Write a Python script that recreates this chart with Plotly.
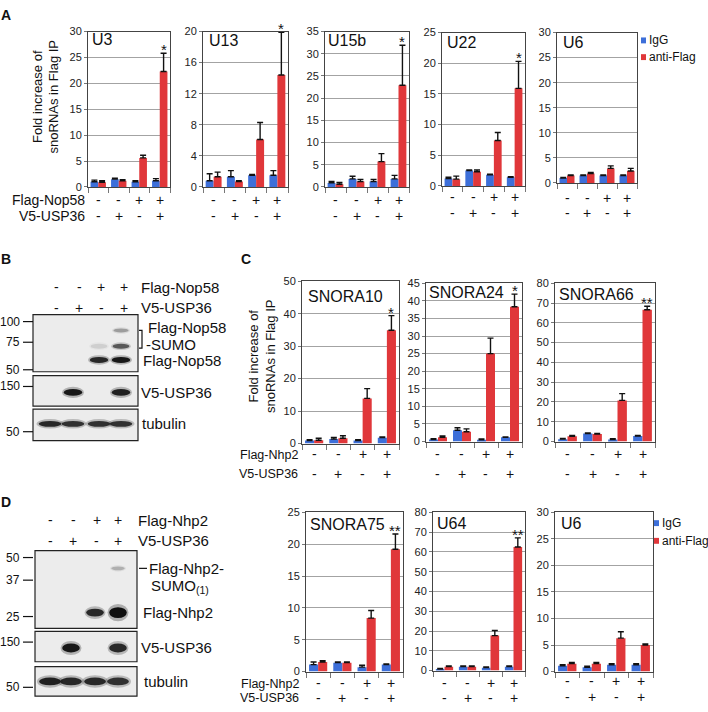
import plotly.graph_objects as go

W, H = 708, 712
FONT = "Liberation Sans, Arial, Helvetica, sans-serif"
BLUE = "#3d6fd9"
RED = "#e0373a"
GRID = "#a3a3a3"
FRAME = "#444444"

# ---------------- data ----------------
GROUPS = [0, 1, 2, 3]
NOP58_SIGNS = ["-", "-", "+", "+"]
NHP2_SIGNS = ["-", "-", "+", "+"]
USP36_SIGNS = ["-", "+", "-", "+"]

# Panel A (Flag-Nop58 IP)
U3_IGG = [1.0, 1.5, 1.0, 1.2]
U3_IGG_ERR = [0.3, 0.2, 0.2, 0.4]
U3_FLAG = [0.9, 1.2, 5.6, 22.3]
U3_FLAG_ERR = [0.3, 0.2, 0.5, 3.5]

U13_IGG = [0.8, 1.3, 1.5, 1.5]
U13_IGG_ERR = [0.9, 0.8, 0.1, 0.6]
U13_FLAG = [1.3, 0.7, 6.1, 14.4]
U13_FLAG_ERR = [0.6, 0.1, 2.2, 5.5]

U15B_IGG = [0.9, 1.8, 1.2, 1.8]
U15B_IGG_ERR = [0.3, 0.6, 0.5, 0.8]
U15B_FLAG = [0.6, 1.2, 5.7, 22.9]
U15B_FLAG_ERR = [0.4, 0.5, 1.8, 9.0]

U22_IGG = [1.2, 2.5, 1.8, 1.4]
U22_IGG_ERR = [0.2, 0.1, 0.1, 0.1]
U22_FLAG = [1.1, 2.3, 7.4, 15.9]
U22_FLAG_ERR = [0.5, 0.3, 1.3, 4.4]

U6A_IGG = [1.0, 1.5, 1.5, 1.5]
U6A_IGG_ERR = [0.1, 0.1, 0.1, 0.1]
U6A_FLAG = [1.5, 1.9, 2.9, 2.4]
U6A_FLAG_ERR = [0.1, 0.2, 0.5, 0.5]

# Panel C (Flag-Nhp2 IP)
SNORA10_IGG = [0.9, 1.4, 0.9, 1.8]
SNORA10_IGG_ERR = [0.3, 0.5, 0.3, 0.2]
SNORA10_FLAG = [1.0, 1.6, 13.9, 34.9]
SNORA10_FLAG_ERR = [0.6, 0.8, 3.0, 4.5]

SNORA24_IGG = [0.6, 3.2, 0.5, 1.2]
SNORA24_IGG_ERR = [0.2, 0.7, 0.2, 0.1]
SNORA24_FLAG = [1.2, 2.8, 25.0, 38.3]
SNORA24_FLAG_ERR = [0.4, 0.8, 4.4, 3.6]

SNORA66_IGG = [1.2, 4.0, 1.0, 2.8]
SNORA66_IGG_ERR = [0.4, 0.3, 0.4, 0.3]
SNORA66_FLAG = [2.7, 3.8, 20.8, 66.6]
SNORA66_FLAG_ERR = [0.4, 0.3, 3.4, 1.8]

# Panel D (Flag-Nhp2 IP)
SNORA75_IGG = [1.1, 1.4, 0.7, 1.1]
SNORA75_IGG_ERR = [0.4, 0.1, 0.3, 0.1]
SNORA75_FLAG = [1.5, 1.4, 8.4, 19.2]
SNORA75_FLAG_ERR = [0.2, 0.1, 1.2, 2.4]

U64_IGG = [0.8, 2.0, 1.5, 2.0]
U64_IGG_ERR = [0.3, 0.4, 0.4, 0.4]
U64_FLAG = [2.0, 2.0, 17.7, 62.5]
U64_FLAG_ERR = [0.4, 0.4, 2.6, 4.6]

U6D_IGG = [1.1, 0.8, 1.3, 1.3]
U6D_IGG_ERR = [0.2, 0.2, 0.2, 0.2]
U6D_FLAG = [1.5, 1.5, 6.3, 5.0]
U6D_FLAG_ERR = [0.2, 0.2, 1.2, 0.2]

# Western blot band intensities (lanes 1-4)
B_NOP58 = [0.0, 0.0, 0.85, 0.95]
B_SUMO_A = [0.0, 0.0, 0.10, 0.60]
B_SUMO_B = [0.0, 0.0, 0.0, 0.30]
B_USP36 = [0.0, 0.95, 0.0, 0.90]
B_TUB = [0.85, 0.80, 0.80, 0.80]

D_NHP2 = [0.0, 0.0, 0.85, 1.0]
D_SUMO = [0.0, 0.0, 0.0, 0.22]
D_USP36 = [0.0, 0.95, 0.0, 0.85]
D_TUB = [0.9, 0.85, 0.85, 0.8]

# ---------------- layout (pixel boxes) ----------------
# name, igg, igg_err, flag, flag_err, ymax, dtick, box(l, r, t, b), star, title(x, y), rows(y1, y2), signs1
PANELS = [
    ("U3", U3_IGG, U3_IGG_ERR, U3_FLAG, U3_FLAG_ERR, 30, 5, (88, 170, 26, 184), "*", (91, 34), (197, 214), NOP58_SIGNS),
    ("U13", U13_IGG, U13_IGG_ERR, U13_FLAG, U13_FLAG_ERR, 20, 4, (203, 288, 26, 184), "*", (208, 35), (197, 214), NOP58_SIGNS),
    ("U15b", U15B_IGG, U15B_IGG_ERR, U15B_FLAG, U15B_FLAG_ERR, 35, 5, (325, 409, 26, 184), "*", (327, 35), (197, 214), NOP58_SIGNS),
    ("U22", U22_IGG, U22_IGG_ERR, U22_FLAG, U22_FLAG_ERR, 25, 5, (442, 525, 27, 183), "*", (446, 37), (194, 211), NOP58_SIGNS),
    ("U6", U6A_IGG, U6A_IGG_ERR, U6A_FLAG, U6A_FLAG_ERR, 30, 5, (557, 637, 27, 180), "", (562, 37), (195, 211), NOP58_SIGNS),
    ("SNORA10", SNORA10_IGG, SNORA10_IGG_ERR, SNORA10_FLAG, SNORA10_FLAG_ERR, 50, 10, (302, 399, 280, 445), "*", (307, 295), (456, 476), NHP2_SIGNS),
    ("SNORA24", SNORA24_IGG, SNORA24_IGG_ERR, SNORA24_FLAG, SNORA24_FLAG_ERR, 45, 5, (426, 522, 282, 443), "*", (428, 291), (456, 476), NHP2_SIGNS),
    ("SNORA66", SNORA66_IGG, SNORA66_IGG_ERR, SNORA66_FLAG, SNORA66_FLAG_ERR, 80, 10, (555, 655, 282, 443), "**", (558, 293), (456, 476), NHP2_SIGNS),
    ("SNORA75", SNORA75_IGG, SNORA75_IGG_ERR, SNORA75_FLAG, SNORA75_FLAG_ERR, 25, 5, (306, 403, 515, 677), "**", (309, 527), (689, 704), NHP2_SIGNS),
    ("U64", U64_IGG, U64_IGG_ERR, U64_FLAG, U64_FLAG_ERR, 80, 10, (433, 525, 515, 676), "**", (436, 526), (689, 704), NHP2_SIGNS),
    ("U6", U6D_IGG, U6D_IGG_ERR, U6D_FLAG, U6D_FLAG_ERR, 30, 5, (555, 653, 515, 677), "", (560, 526), (687, 703), NHP2_SIGNS),
]

BARGAP = 0.25


def px(x):
    return x / W


def py(y):
    return 1 - y / H


fig = go.Figure()
annotations = []
shapes = []
layout_axes = {}


def text(x, y, s, size=14, anchor="left", valign="middle", color="#111", angle=0, bold=False, **kw):
    if bold:
        s = "<b>" + s + "</b>"
    annotations.append(dict(x=px(x), y=py(y), xref="paper", yref="paper", text=s, showarrow=False,
                            xanchor=anchor, yanchor=valign, textangle=angle, borderpad=0,
                            font=dict(size=size, color=color, family=FONT), **kw))


for k, (name, igg, igg_err, flag, flag_err, ymax, dtick, box, star, tpos, rows, signs1) in enumerate(PANELS, start=1):
    xa = "x" if k == 1 else f"x{k}"
    ya = "y" if k == 1 else f"y{k}"
    l, r, t, b = box
    err_style = dict(type="data", symmetric=False, color="#111", thickness=1.4, width=3)
    fig.add_trace(go.Bar(x=GROUPS, y=igg, name="IgG", marker=dict(color=BLUE, line=dict(width=0)),
                         error_y=dict(array=igg_err, arrayminus=[0] * len(igg), **err_style),
                         xaxis=xa, yaxis=ya, showlegend=False))
    fig.add_trace(go.Bar(x=GROUPS, y=flag, name="anti-Flag", marker=dict(color=RED, line=dict(width=0)),
                         error_y=dict(array=flag_err, arrayminus=[0] * len(flag), **err_style),
                         xaxis=xa, yaxis=ya, showlegend=False))
    layout_axes["xaxis" if k == 1 else f"xaxis{k}"] = dict(
        domain=[px(l), px(r)], anchor=ya, range=[-0.5, 3.5],
        tickvals=[-0.5, 0.5, 1.5, 2.5, 3.5], showticklabels=False,
        ticks="outside", ticklen=5, tickcolor="#777", showline=True, linecolor=FRAME,
        linewidth=1, mirror=True, showgrid=False, zeroline=False, fixedrange=True)
    layout_axes["yaxis" if k == 1 else f"yaxis{k}"] = dict(
        domain=[py(b), py(t)], anchor=xa, range=[0, ymax], tick0=0, dtick=dtick,
        showgrid=True, gridcolor=GRID, gridwidth=1, ticks="outside", ticklen=3, tickcolor="#777",
        showline=True, linecolor=FRAME, linewidth=1, mirror=True, zeroline=False,
        tickfont=dict(size=11, color="#222", family=FONT), fixedrange=True)
    # panel title
    text(tpos[0], tpos[1], name, size=16)
    # significance stars above the anti-Flag bar of the last group
    if star:
        annotations.append(dict(x=GROUPS[-1] + (1 - BARGAP) / 4, y=flag[-1] + flag_err[-1],
                                xref=xa, yref=ya, text=star, showarrow=False, yanchor="bottom",
                                yshift=-6, borderpad=0, font=dict(size=15, color="#111", family=FONT)))
    # +/- rows
    for i, g in enumerate(GROUPS):
        for row_y, sgn in ((rows[0], signs1[i]), (rows[1], USP36_SIGNS[i])):
            annotations.append(dict(x=g, y=py(row_y), xref=xa, yref="paper", text=sgn, showarrow=False,
                                    xanchor="center", yanchor="middle", borderpad=0,
                                    font=dict(size=14, color="#111", family=FONT)))

# row labels for bar panels
text(86, 197, "Flag-Nop58", 14, anchor="right")
text(86, 214, "V5-USP36", 14, anchor="right")
text(299, 457, "Flag-Nhp2", 12.5, anchor="right")
text(299, 476, "V5-USP36", 12.5, anchor="right")
text(300, 690, "Flag-Nhp2", 12.5, anchor="right")
text(300, 704, "V5-USP36", 12.5, anchor="right")

# y-axis titles
text(46, 93, "Fold increase of<br>snoRNAs in Flag IP", 13, anchor="center", angle=-90)
text(262, 357, "Fold increase of<br>snoRNAs in Flag IP", 13, anchor="center", angle=-90)

# legends (A and D)
for (sx, ty1, ty2) in ((641, 35, 52), (654, 526, 544)):
    shapes.append(dict(type="rect", xref="paper", yref="paper", x0=px(sx), x1=px(sx + 5),
                       y0=py(ty1 + 3), y1=py(ty1 - 3), fillcolor=BLUE, line=dict(width=0)))
    shapes.append(dict(type="rect", xref="paper", yref="paper", x0=px(sx), x1=px(sx + 5),
                       y0=py(ty2 + 3), y1=py(ty2 - 3), fillcolor=RED, line=dict(width=0)))
    text(sx + 7, ty1, "IgG", 12)
    text(sx + 7, ty2, "anti-Flag", 12)

# panel letters
text(6, 9, "A", 14, anchor="center", bold=True)
text(6, 257, "B", 14, anchor="center", bold=True)
text(246, 257, "C", 14, anchor="center", bold=True)
text(6, 504, "D", 14, anchor="center", bold=True)


# ---------------- western blots (schematic) ----------------
def rect(x0, y0, x1, y1, fill="#ececec", lc="#222", lw=1.2):
    shapes.append(dict(type="rect", xref="paper", yref="paper", x0=px(x0), x1=px(x1), y0=py(y1), y1=py(y0),
                       fillcolor=fill, line=dict(color=lc, width=lw), layer="above"))


def band(xc, yc, w, h, a):
    if a <= 0:
        return
    shapes.append(dict(type="circle", xref="paper", yref="paper", x0=px(xc - w / 2), x1=px(xc + w / 2),
                       y0=py(yc + h * 0.8), y1=py(yc - h * 0.8),
                       fillcolor=f"rgba(30,30,30,{a * 0.3:.2f})", line=dict(width=0), layer="above"))
    shapes.append(dict(type="circle", xref="paper", yref="paper", x0=px(xc - w * 0.42), x1=px(xc + w * 0.42),
                       y0=py(yc + h / 2), y1=py(yc - h / 2),
                       fillcolor=f"rgba(15,15,15,{a:.2f})", line=dict(width=0), layer="above"))


def mw(y, label):
    shapes.append(dict(type="line", xref="paper", yref="paper", x0=px(23), x1=px(33), y0=py(y), y1=py(y),
                       line=dict(color="#111", width=1.2)))
    text(21, y, label, 12, anchor="right")


# Blot B
B_LANES = [50, 73, 99, 121]
B_SIGN_X = [57, 79, 101, 124]
for i in range(4):
    text(B_SIGN_X[i], 286, NOP58_SIGNS[i], 14, anchor="center")
    text(B_SIGN_X[i], 307, USP36_SIGNS[i], 14, anchor="center")
text(140, 286, "Flag-Nop58", 15)
text(140, 307, "V5-USP36", 15)
rect(33, 314, 138, 372)
rect(33, 376, 138, 407)
rect(33, 410, 138, 442)
for i, xc in enumerate(B_LANES):
    band(xc, 360, 22, 6, B_NOP58[i])
    band(xc, 346, 20, 5, B_SUMO_A[i])
    band(xc, 330, 18, 4, B_SUMO_B[i])
    band(xc, 393, 22, 7, B_USP36[i])
    band(xc, 425, 27, 6, B_TUB[i])
mw(321, "100")
mw(342, "75")
mw(370, "50")
mw(387, "150")
mw(433, "50")
shapes.append(dict(type="path", xref="paper", yref="paper",
                   path=f"M {px(139)},{py(330)} L {px(142)},{py(330)} L {px(142)},{py(348)} L {px(139)},{py(348)}",
                   line=dict(color="#111", width=1.2)))
text(147, 327, "Flag-Nop58", 15)
text(145, 344, "-SUMO", 15)
text(142, 361, "Flag-Nop58", 15)
text(140, 393, "V5-USP36", 15)
text(141, 425, "tubulin", 15)

# Blot D
D_LANES = [50, 71, 95, 118]
D_SIGN_X = [50, 73, 97, 118]
for i in range(4):
    text(D_SIGN_X[i], 523, NHP2_SIGNS[i], 14, anchor="center")
    text(D_SIGN_X[i], 544, USP36_SIGNS[i], 14, anchor="center")
text(137, 523, "Flag-Nhp2", 15)
text(137, 544, "V5-USP36", 15)
rect(35, 554, 137, 633)
rect(35, 636, 137, 667)
rect(35, 672, 137, 702)
for i, xc in enumerate(D_LANES):
    band(xc, 617, 21, 8 if i < 3 else 11, D_NHP2[i])
    band(xc, 572, 16, 4, D_SUMO[i])
    band(xc, 653, 21, 9, D_USP36[i])
    band(xc, 687, 26, 8, D_TUB[i])
mw(561, "50")
mw(584, "37")
mw(621, "25")
mw(647, "150")
mw(693, "50")
shapes.append(dict(type="line", xref="paper", yref="paper", x0=px(139), x1=px(147), y0=py(572), y1=py(572),
                   line=dict(color="#111", width=1.2)))
text(148, 572, "Flag-Nhp2-", 15)
text(150, 590, "SUMO<sub>(1)</sub>", 15)
text(142, 617, "Flag-Nhp2", 15)
text(140, 653, "V5-USP36", 15)
text(143, 687, "tubulin", 15)

fig.update_layout(
    width=W, height=H, margin=dict(l=0, r=0, t=0, b=0),
    paper_bgcolor="white", plot_bgcolor="white",
    barmode="group", bargap=BARGAP, bargroupgap=0,
    font=dict(family=FONT, color="#111"),
    annotations=annotations, shapes=shapes, showlegend=False,
    **layout_axes,
)

fig.write_html("out.html", config={"displayModeBar": False},
               post_script="document.body.style.margin='0';document.body.style.overflow='hidden';")
